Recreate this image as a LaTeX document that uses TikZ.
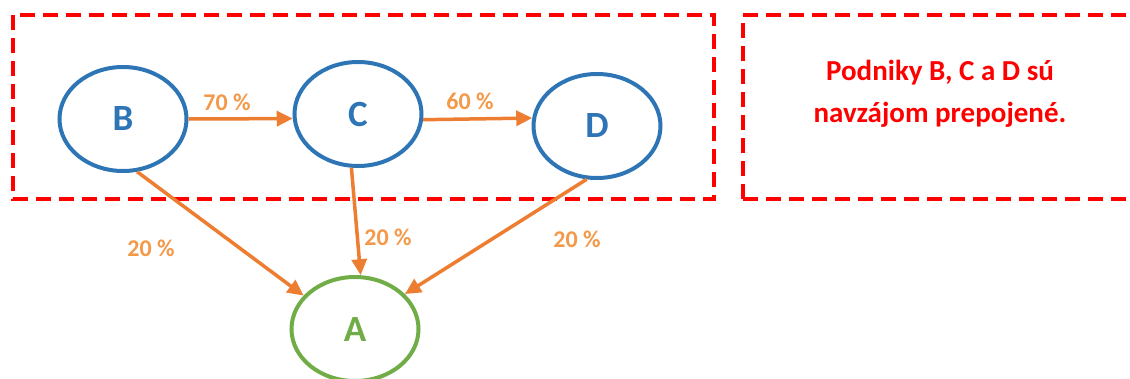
\documentclass[tikz,border=0pt]{standalone}
\usepackage{fontspec}
\setmainfont{Carlito}
\usetikzlibrary{shapes.geometric,arrows.meta}
\definecolor{nodeblue}{HTML}{2E75B6}
\definecolor{nodegreen}{HTML}{70AD47}
\definecolor{arrorange}{HTML}{ED7D31}
\definecolor{lblorange}{HTML}{F4994A}
\definecolor{boxred}{HTML}{FF0000}
\tikzset{
  company/.style={ellipse, draw=nodeblue, line width=4pt, minimum width=127pt, minimum height=104pt, inner sep=0pt, text=nodeblue, font=\bfseries\fontsize{37}{42}\selectfont},
  target/.style={company, draw=nodegreen, text=nodegreen},
  link/.style={draw=arrorange, line width=3.5pt, -{Triangle[length=16pt,width=15pt]}},
  pct/.style={text=lblorange, font=\bfseries\fontsize{24}{28}\selectfont, inner sep=0pt},
  groupbox/.style={draw=boxred, line width=4pt, dash pattern=on 15pt off 8pt},
  note/.style={text=boxred, font=\bfseries\fontsize{29}{42}\selectfont, align=center, inner sep=0pt}
}
\begin{document}
\begin{tikzpicture}[x=1pt,y=-1pt]
\useasboundingbox (0,0) rectangle (1130,378);
\draw[groupbox] (13,15) rectangle (714,199);
\draw[groupbox] (743,15) -- (1140,15);
\draw[groupbox] (743,199) -- (1140,199);
\draw[groupbox] (743,199) -- (743,15);
\node[company] (B) at (123,119) {B};
\node[company] (C) at (358,114) {C};
\node[company] (D) at (597,126) {D};
\node[target] (A) at (355,329) {A};
\draw[link] (B.0) -- (C.184);
\draw[link] (C.-5) -- (D.173);
\draw[link] (B.-75) -- (A.147);
\draw[link] (C.-97) -- (A.84);
\draw[link] (D.-101) -- (A.35);
\node[pct] (p1) at (227,102) {70 \%};
\node[pct] (p2) at (470,101) {60 \%};
\node[pct] (p3) at (151,248) {20 \%};
\node[pct] (p4) at (388,237) {20 \%};
\node[pct] (p5) at (577,239) {20 \%};
\node[note] (t) at (940,94) {Podniky B, C a D sú\\navzájom prepojené.};
\end{tikzpicture}
\end{document}
